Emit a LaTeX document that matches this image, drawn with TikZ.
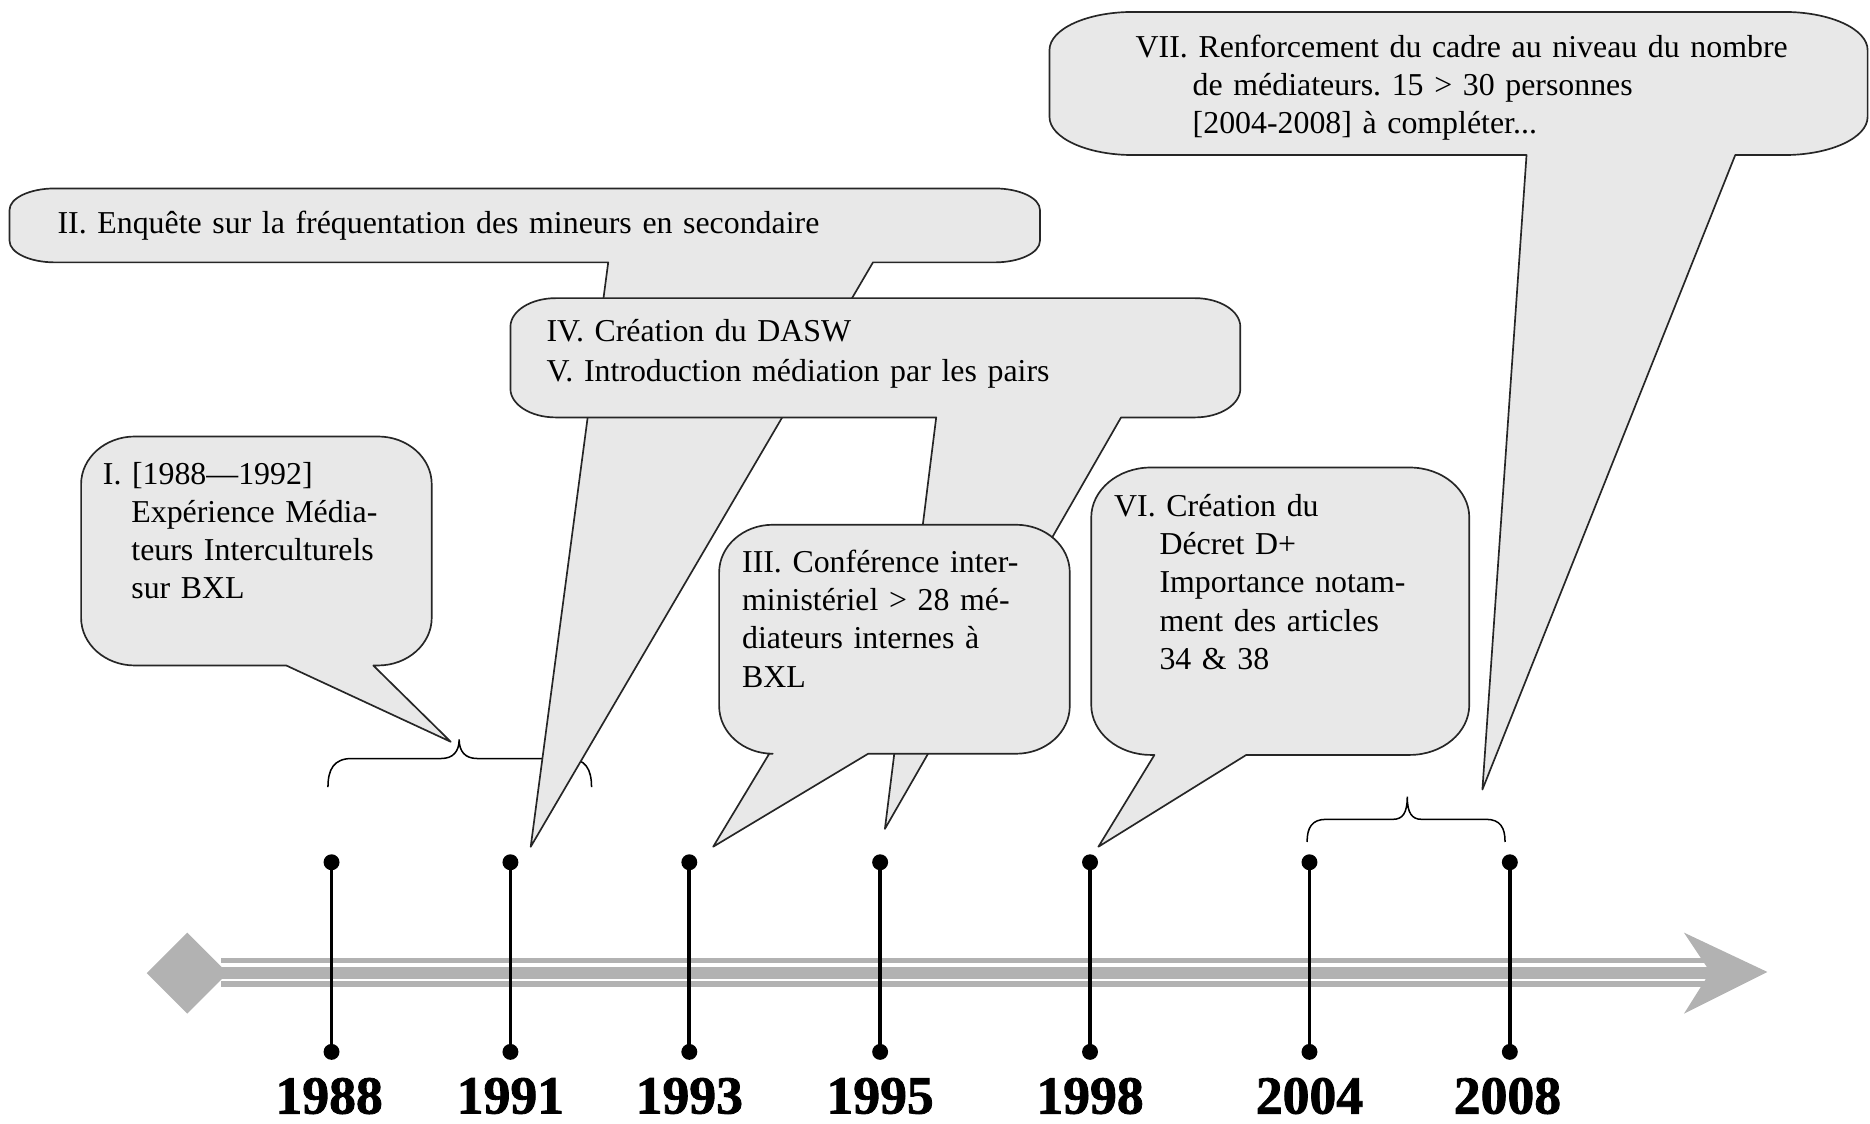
\documentclass[tikz,border=0pt]{standalone}
\usepackage{fontspec}
\setmainfont{Liberation Serif}
\newfontfamily\yearfont{Liberation Serif}[BoldFeatures={FakeBold=1.5}]
\frenchspacing
\definecolor{bubblegray}{RGB}{232,232,232}
\definecolor{bandgray}{RGB}{178,178,178}
\newcommand\setcorner[2]{\def\brx{#1}\def\bry{#2}}
% #1 L, #2 T, #3 R, #4 B, #5 tail left x, #6 tail right x, #7 tip x, #8 tip y
\newcommand\bub[8]{%
 \draw[bubble] (#1+\brx,#2) -- (#3-\brx,#2)
  .. controls (#3-0.448*\brx,#2) and (#3,#2+0.448*\bry) .. (#3,#2+\bry)
  -- (#3,#4-\bry)
  .. controls (#3,#4-0.448*\bry) and (#3-0.448*\brx,#4) .. (#3-\brx,#4)
  -- (#6,#4) -- (#7,#8) -- (#5,#4)
  -- (#1+\brx,#4)
  .. controls (#1+0.448*\brx,#4) and (#1,#4-0.448*\bry) .. (#1,#4-\bry)
  -- (#1,#2+\bry)
  .. controls (#1,#2+0.448*\bry) and (#1+0.448*\brx,#2) .. (#1+\brx,#2) -- cycle;}
\begin{document}
\begin{tikzpicture}[x={(0.025cm,0)}, y={(0,-0.025cm)},
  bubble/.style={draw=black!85, line width=1pt, fill=bubblegray, line join=round},
  btext/.style={anchor=base west, inner sep=0pt, text width=600pt, align=left,
    font=\fontsize{19}{22.8}\selectfont},
  dot/.style={circle, fill=black, inner sep=0pt, minimum size=9.5pt},
  stem/.style={line width=2.2pt, black},
  year/.style={font=\yearfont\fontsize{32}{36}\selectfont\bfseries, inner sep=0pt},
  bracestyle/.style={draw=black, line width=0.9pt}]
\useasboundingbox (0,0) rectangle (1568,942);

% timeline band
\fill[bandgray] (185,803) rectangle (1440,828);
\fill[white] (185,807.5) rectangle (1432,810.5);
\fill[white] (185,820.5) rectangle (1432,822.5);
\fill[bandgray] (1412,782) -- (1482,815) -- (1412,850) -- (1434,815) -- cycle;
\fill[bandgray] (123,816) -- (157,782) -- (191,816) -- (157,850) -- cycle;

% stems
\foreach \yr/\x/\lx in {1988/278/276, 1991/428/428, 1993/578/578, 1995/738/738, 1998/914/914, 2004/1098/1098, 2008/1266/1264}{
  \node[dot] (t\yr) at (\x,723) {};
  \node[dot] (b\yr) at (\x,882) {};
  \draw[stem] (t\yr.center) -- (b\yr.center);
  \node[year] (y\yr) at (\lx,919) {\yr};
}

% braces
\draw[bracestyle] (275,660) .. controls (275,645) and (280,636) .. (295,636) -- (370,636)
  .. controls (380,636) and (385,630) .. (385,620)
  .. controls (385,630) and (390,636) .. (400,636) -- (476,636)
  .. controls (491,636) and (496,645) .. (496,660);
\draw[bracestyle] (1096,706) .. controls (1096,694) and (1100,687) .. (1112,687) -- (1168,687)
  .. controls (1176,687) and (1180,682) .. (1180,668)
  .. controls (1180,682) and (1184,687) .. (1192,687) -- (1246,687)
  .. controls (1258,687) and (1262,694) .. (1262,706);

% bubbles
\setcorner{38}{18}\bub{8}{158}{872}{220}{510}{732}{445}{710}
\setcorner{38}{24}\bub{428}{250}{1040}{350}{785}{940}{742}{695}
\setcorner{45}{40}\bub{603}{440}{897}{632}{645}{728}{598}{710}
\setcorner{45}{40}\bub{68}{366}{362}{558}{240}{313}{378}{622}
\setcorner{50}{42}\bub{915}{392}{1232}{633}{968}{1045}{921}{710}
\setcorner{70}{32}\bub{880}{10}{1566}{130}{1280}{1455}{1243}{662}

% texts
\node[btext] (tII) at (48,196) {II. Enquête sur la fréquentation des mineurs en secondaire};
\node[btext, font=\fontsize{19}{23.8}\selectfont] (tIV) at (458,286) {IV. Création du DASW\\V. Introduction médiation par les pairs};
\node[btext] (tI) at (86,406) {I. [1988—1992]\\\hspace*{17pt}Expérience Média-\\\hspace*{17pt}teurs Interculturels\\\hspace*{17pt}sur BXL};
\node[btext] (tIII) at (622,480) {III. Conférence inter-\\ministériel > 28 mé-\\diateurs internes à\\BXL};
\node[btext] (tVI) at (934,433) {VI. Création du\\\hspace*{27pt}Décret D+\\\hspace*{27pt}Importance notam-\\\hspace*{27pt}ment des articles\\\hspace*{27pt}34 \& 38};
\node[btext] (tVII) at (952,48) {VII. Renforcement du cadre au niveau du nombre\\\hspace*{34pt}de médiateurs. 15 > 30 personnes\\\hspace*{34pt}[2004-2008] à compléter...};
\end{tikzpicture}
\end{document}
